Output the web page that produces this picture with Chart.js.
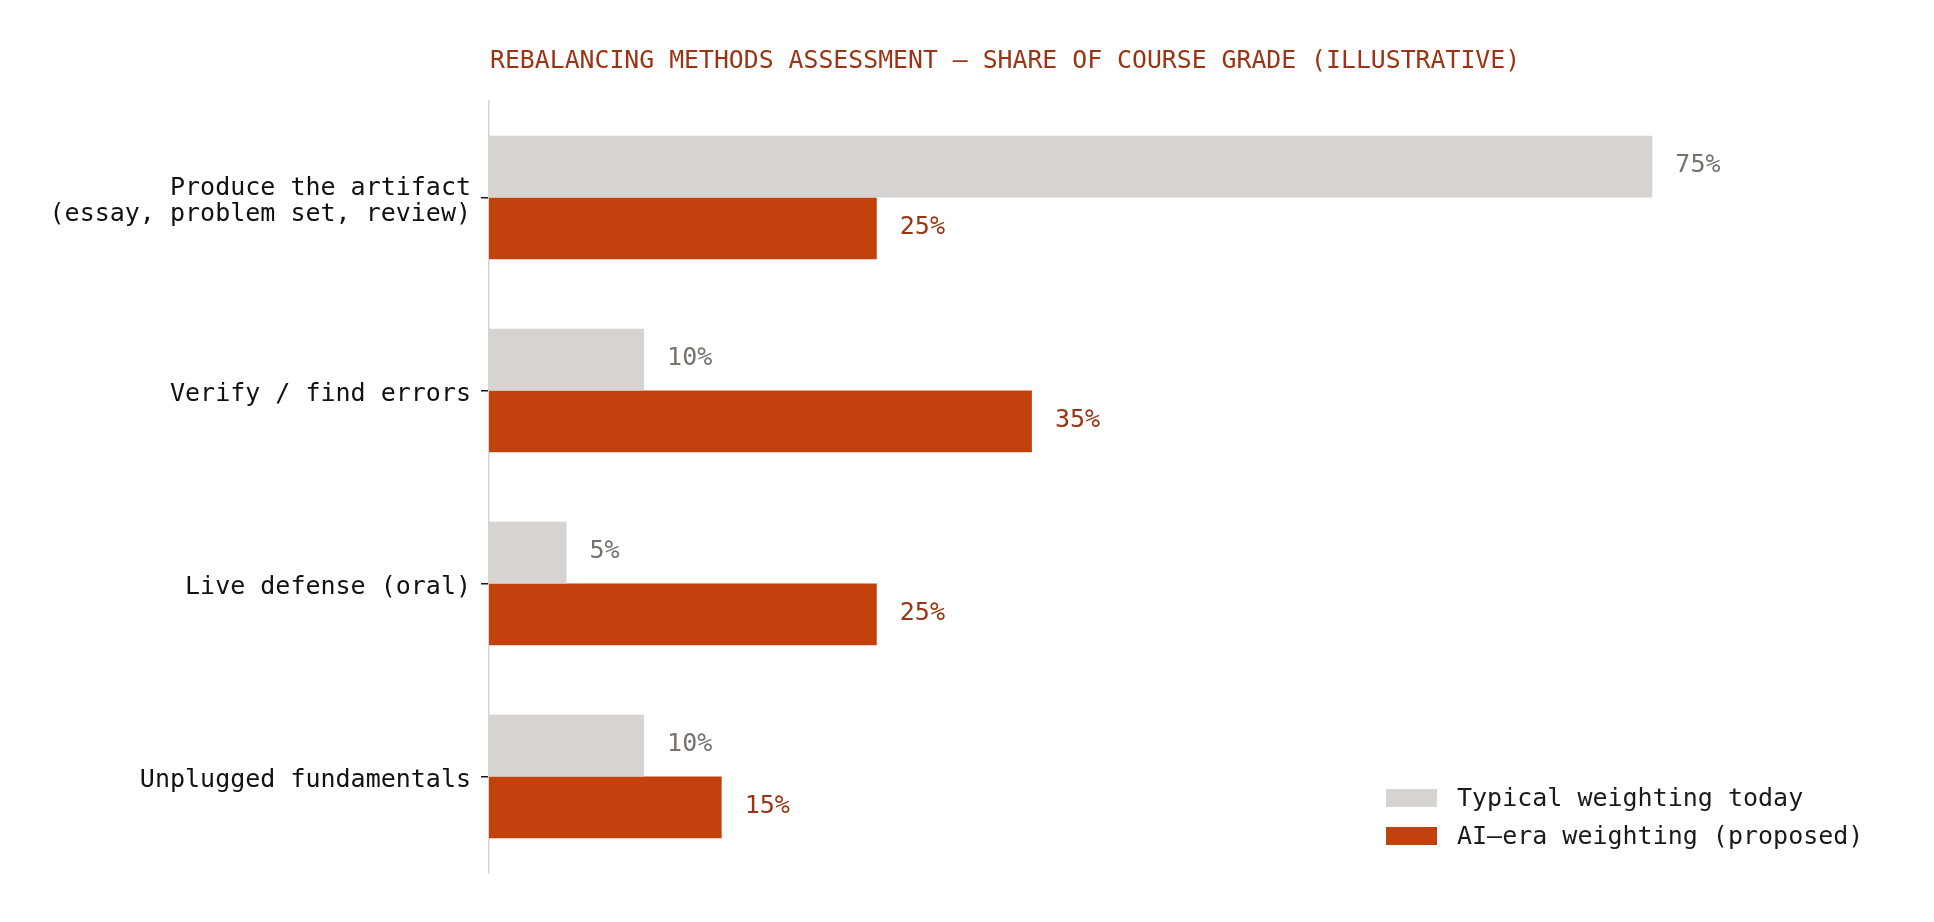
<!DOCTYPE html>
<html>
<head>
<meta charset="utf-8">
<script src="https://cdn.jsdelivr.net/npm/chart.js@4.4.0/dist/chart.umd.min.js"></script>
<style>
html,body{margin:0;padding:0;background:#fff;}
#wrap{width:1934px;height:922px;position:relative;}
</style>
</head>
<body>
<div id="wrap"><canvas id="c" width="1934" height="922"></canvas></div>
<script>
const categories = [
  ["Produce the artifact", "(essay, problem set, review)"],
  "Verify / find errors",
  "Live defense (oral)",
  "Unplugged fundamentals"
];
const seriesNames = ["Typical weighting today", "AI\u2013era weighting (proposed)"];
const typicalToday = [75, 10, 5, 10];
const aiEra = [25, 35, 25, 15];
const titleText = "REBALANCING METHODS ASSESSMENT \u2014 SHARE OF COURSE GRADE (ILLUSTRATIVE)";

const FONT = "'DejaVu Sans Mono', monospace";
const FS = 25;
const GREY = '#d6d3d1';
const ORANGE = '#c2410c';
const labelColors = ['#78716c', '#9a3412'];

const overlay = {
  id: 'overlay',
  afterDatasetsDraw(chart) {
    const ctx = chart.ctx;
    const ca = chart.chartArea;
    const ys = chart.scales.y;
    ctx.save();
    // title
    ctx.font = '24.8px ' + FONT;
    ctx.fillStyle = '#9a3412';
    ctx.textAlign = 'left';
    ctx.textBaseline = 'alphabetic';
    ctx.fillText(titleText, ca.left + 1, 68);
    ctx.font = FS + 'px ' + FONT;
    // category labels
    ctx.textAlign = 'right';
    ctx.fillStyle = '#111';
    chart.data.labels.forEach((lab, i) => {
      const py = ys.getPixelForValue(i);
      const lines = Array.isArray(lab) ? lab : [lab];
      if (lines.length === 1) {
        ctx.fillText(lines[0], 471, py + 10);
      } else {
        lines.forEach((ln, k) => ctx.fillText(ln, 471, py - 2.3 + k * 26));
      }
    });
    // value labels
    ctx.textAlign = 'left';
    chart.data.datasets.forEach((ds, di) => {
      const meta = chart.getDatasetMeta(di);
      meta.data.forEach((bar, i) => {
        ctx.fillStyle = labelColors[di];
        ctx.fillText(ds.data[i] + '%', bar.x + 23, bar.y + 5.5);
      });
    });
    // legend
    const lx = 1386, ly = [798, 836];
    chart.data.datasets.forEach((ds, di) => {
      ctx.fillStyle = ds.backgroundColor;
      ctx.fillRect(lx, ly[di] - 9, 51, 18);
      ctx.fillStyle = '#1c1917';
      ctx.fillText(ds.label, 1457, ly[di] + 8);
    });
    ctx.restore();
  }
};

new Chart(document.getElementById('c'), {
  type: 'bar',
  data: {
    labels: categories,
    datasets: [
      { label: seriesNames[0], data: typicalToday, backgroundColor: GREY, borderWidth: 0 },
      { label: seriesNames[1], data: aiEra, backgroundColor: ORANGE, borderWidth: 0 }
    ]
  },
  options: {
    indexAxis: 'y',
    responsive: false,
    animation: false,
    devicePixelRatio: 1,
    layout: { padding: { top: 101, bottom: 49, right: 49, left: 0 } },
    categoryPercentage: 0.64,
    barPercentage: 1.0,
    plugins: {
      legend: { display: false },
      title: { display: false },
      tooltip: { enabled: false }
    },
    scales: {
      x: { display: false, min: 0, max: 90 },
      y: {
        offset: true,
        grid: { drawOnChartArea: false, color: '#1c1917', tickLength: 8, lineWidth: 1.5, offset: false },
        border: { color: '#d6d3d1', width: 1.5 },
        ticks: { display: false },
        afterFit(scale) { scale.width = 489; }
      }
    }
  },
  plugins: [overlay]
});
</script>
</body>
</html>
